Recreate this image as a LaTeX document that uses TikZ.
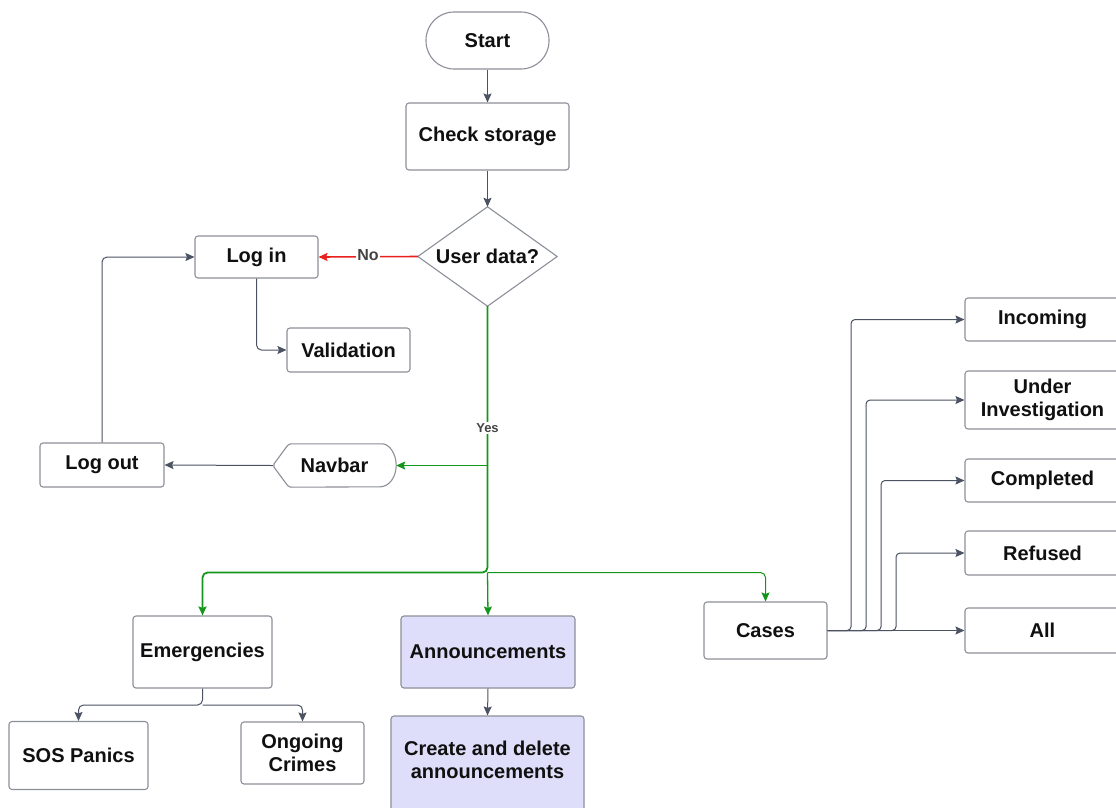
\documentclass[tikz,border=0pt]{standalone}
\usepackage{fontspec}
\setmainfont{Liberation Sans}
\usetikzlibrary{arrows.meta}
\definecolor{boxline}{HTML}{8C9098}
\definecolor{wire}{HTML}{4B5261}
\definecolor{yesgreen}{HTML}{14961A}
\definecolor{nored}{HTML}{E8201E}
\definecolor{lav}{HTML}{DEDEFA}
\definecolor{ink}{HTML}{101010}
\definecolor{lbl}{HTML}{444444}

\begin{document}
\begin{tikzpicture}[x=1pt,y=-1pt,
  box/.style 2 args={draw=boxline, line width=1.1pt, rounded corners=3pt, fill=white,
    minimum width=#1, minimum height=#2, inner sep=0pt, align=center,
    font=\fontsize{20}{23.5}\selectfont\bfseries, text=ink},
  plain/.style={inner sep=0pt, align=center, font=\fontsize{20}{23.5}\selectfont\bfseries, text=ink},
  tip/.style={-{Stealth[length=9pt,width=8pt,inset=1.5pt]}},
  flow/.style={draw=wire, line width=1pt, tip},
  greenflow/.style={draw=yesgreen, color=yesgreen, line width=1.3pt, tip},
  every path/.append style={line join=round}
]
\useasboundingbox (0,0) rectangle (1116,807);
\fill[white] (0,0) rectangle (1116,807);

% --- main column ---
\node[box={123}{57}, rounded corners=28pt] (start) at (487.5,40.5) {Start};
\node[box={163}{67}] (check) at (487.5,136.5) {Check storage};
\node[plain, minimum width=139, minimum height=99] (dec) at (487.5,256.5) {User data?};
\draw[boxline, line width=1.1pt] (dec.north) -- (dec.east) -- (dec.south) -- (dec.west) -- cycle;

% --- login branch ---
\node[box={123}{42}] (login) at (256.5,257) {Log in};
\node[box={123}{44}] (valid) at (348.5,350) {Validation};
\node[box={124}{44}] (logout) at (102,465) {Log out};
\node[plain, minimum width=123, minimum height=43] (navbar) at (334.5,465.5) {Navbar};
\draw[boxline, line width=1.1pt, rounded corners=2pt]
  (navbar.west) -- ([xshift=16pt]navbar.north west) -- ([xshift=-16pt]navbar.north east)
  [sharp corners] arc[start angle=90, end angle=-90, x radius=16pt, y radius=21.5pt]
  [rounded corners=2pt] -- ([xshift=16pt]navbar.south west) -- cycle;

% --- lower row ---
\node[box={139}{72}] (emerg) at (202.5,652) {Emergencies};
\node[box={174}{72}, fill=lav] (announce) at (488,652) {Announcements};
\node[box={193}{110}, fill=lav] (create) at (487.5,771) {};
\node[plain] (createtext) at (487.5,760) {Create and delete\\announcements};
\node[box={139}{68}] (sos) at (78.5,755.5) {SOS Panics};
\node[box={123}{62}] (ongoing) at (302.5,753) {Ongoing\\Crimes};
\node[box={123}{57}] (cases) at (765.5,630.5) {Cases};

% --- case states ---
\node[box={155}{43}] (incoming) at (1042.5,319.5) {Incoming};
\node[box={155}{58}] (underinv) at (1042.5,400) {Under\\Investigation};
\node[box={155}{43}] (completed) at (1042.5,480.5) {Completed};
\node[box={155}{44}] (refused) at (1042.5,553) {Refused};
\node[box={155}{45}] (all) at (1042.5,630.5) {All};

% --- connectors ---
\draw[flow] (start.south) -- (check.north);
\draw[flow] (check.south) -- (dec.north);
\draw[flow, draw=nored, color=nored, line width=1.6pt] (dec.west) -- (login.east);
\node[fill=white, inner sep=1pt, font=\fontsize{16}{18}\selectfont\bfseries, text=lbl] (nolabel) at (368,255.5) {No};
\draw[flow, rounded corners=5pt] (login.south) |- (valid.west);
\draw[flow, rounded corners=5pt] (logout.north) |- (login.west);
\draw[flow] (navbar.west) -- (logout.east);

% the "Yes" trunk runs from the decision down to the three sections
\coordinate (navjoin) at (487.5,465.5);
\coordinate (split) at (487.5,572.5);
\draw[greenflow, line width=1.8pt, rounded corners=5pt] (dec.south) -- (split) -| (emerg.north);
\draw[greenflow] (navjoin) -- (navbar.east);
\draw[greenflow] (split) -- (announce.north);
\draw[greenflow, line width=1pt, rounded corners=5pt] (split) -| (cases.north);
\node[fill=white, inner sep=1.5pt, font=\fontsize{13}{15}\selectfont\bfseries, text=lbl] (yes) at (487.5,428) {Yes};

\coordinate (esplit) at (202.5,705);
\draw[flow, rounded corners=5pt] (emerg.south) -- (esplit) -| (sos.north);
\draw[flow, rounded corners=5pt] (esplit) -| (ongoing.north);
\draw[flow] (announce.south) -- (create.north);

\draw[flow, rounded corners=4pt] (cases.east) -- ++(23.5,0) |- (incoming.west);
\draw[flow, rounded corners=4pt] (cases.east) -- ++(38.5,0) |- (underinv.west);
\draw[flow, rounded corners=4pt] (cases.east) -- ++(53.5,0) |- (completed.west);
\draw[flow, rounded corners=4pt] (cases.east) -- ++(68.5,0) |- (refused.west);
\draw[flow] (cases.east) -- (all.west);
\end{tikzpicture}
\end{document}
